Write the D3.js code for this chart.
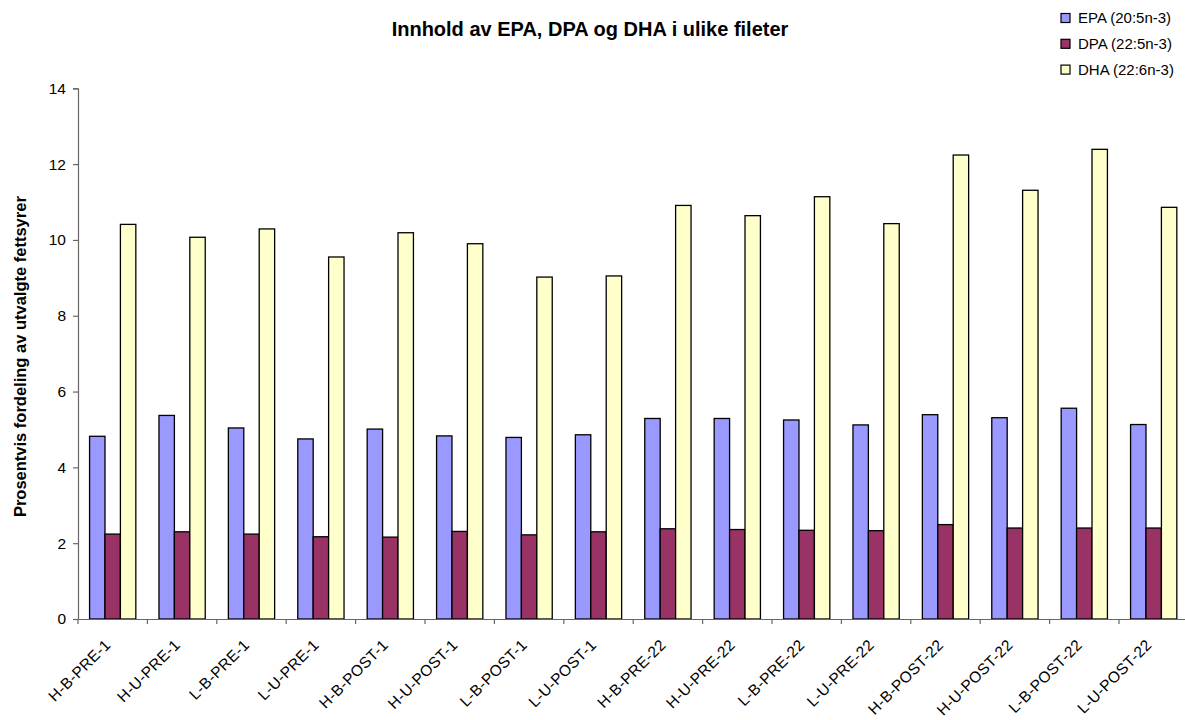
<!DOCTYPE html>
<html><head><meta charset="utf-8">
<script src="https://cdn.jsdelivr.net/npm/d3@7"></script>
<style>body{margin:0;background:#fff}svg{display:block;font-family:Arial,"Liberation Sans",sans-serif}</style>
</head><body><svg id="c" width="1185" height="720"></svg>
<script>
const categories = ["H-B-PRE-1","H-U-PRE-1","L-B-PRE-1","L-U-PRE-1","H-B-POST-1","H-U-POST-1","L-B-POST-1","L-U-POST-1","H-B-PRE-22","H-U-PRE-22","L-B-PRE-22","L-U-PRE-22","H-B-POST-22","H-U-POST-22","L-B-POST-22","L-U-POST-22"];
const seriesNames = ["EPA (20:5n-3)","DPA (22:5n-3)","DHA (22:6n-3)"];
const epa = [4.82,5.37,5.04,4.75,5.01,4.83,4.79,4.86,5.29,5.29,5.25,5.12,5.39,5.31,5.56,5.13];
const dpa = [2.24,2.30,2.24,2.17,2.16,2.31,2.22,2.30,2.38,2.36,2.34,2.33,2.49,2.40,2.40,2.40];
const dha = [10.41,10.07,10.29,9.55,10.19,9.90,9.02,9.05,10.91,10.64,11.14,10.43,12.24,11.31,12.39,10.86];
const yTicks = [0,2,4,6,8,10,12,14];
const colors = ["#9999FF","#993366","#FFFFCC"];
const title = "Innhold av EPA, DPA og DHA i ulike fileter";
const yLabel = "Prosentvis fordeling av utvalgte fettsyrer";

(function(){
const series = [epa, dpa, dha];
const svg = d3.select("#c");
const mLeft = 78, mTop = 88.3, mBottom = 619, mRight = 78 + 16*69.4;

const x = d3.scaleBand().domain(categories).range([mLeft, mRight]).paddingInner(0).paddingOuter(0);
const bw = x.bandwidth();
const barW = bw/4.5;
const x1 = d3.scaleBand().domain(d3.range(3)).range([0.75*barW, 0.75*barW + 3*barW]).padding(0);
const y = d3.scaleLinear().domain([0,14]).range([mBottom, mTop]);

// bars
series.forEach((s, si) => {
  svg.append("g").selectAll("rect").data(s).join("rect")
    .attr("x", (d,i) => x(categories[i]) + x1(si))
    .attr("y", d => y(d))
    .attr("width", x1.bandwidth())
    .attr("height", d => y(0) - y(d))
    .attr("fill", colors[si])
    .attr("stroke", "#000")
    .attr("stroke-width", 1.3);
});

// y axis
const yAxis = svg.append("g").attr("transform", `translate(${mLeft},0)`)
  .call(d3.axisLeft(y).tickValues(yTicks).tickSize(5).tickPadding(7).tickFormat(d3.format("d")));
yAxis.select(".domain").attr("stroke", "#666").attr("stroke-width", 1.2);
yAxis.selectAll(".tick line").attr("stroke", "#666").attr("stroke-width", 1.2);
yAxis.selectAll("text").attr("font-size", 15.5).attr("fill", "#000").attr("font-family", "Arial, 'Liberation Sans', sans-serif");

// x axis
const xAxis = svg.append("g").attr("transform", `translate(0,${mBottom})`)
  .call(d3.axisBottom(x).tickSize(0).tickFormat(""));
xAxis.select(".domain").attr("stroke", "#666").attr("stroke-width", 1.2);
xAxis.selectAll(".tick").remove();
const tickPos = d3.range(17).map(i => mLeft + i*bw);
svg.append("g").selectAll("line").data(tickPos).join("line")
  .attr("x1", d => d).attr("x2", d => d).attr("y1", mBottom).attr("y2", mBottom + 5)
  .attr("stroke", "#666").attr("stroke-width", 1.2);
svg.append("g").selectAll("text").data(categories).join("text")
  .attr("transform", d => `translate(${x(d) + bw/2 - 5},${mBottom + 23}) rotate(-45)`)
  .attr("text-anchor", "end")
  .attr("dy", "0.35em")
  .attr("font-size", 15.5)
  .attr("letter-spacing", 0.3)
  .text(d => d);

// title
svg.append("text").attr("x", 590).attr("y", 36).attr("text-anchor", "middle")
  .attr("font-size", 20).attr("font-weight", "bold").text(title);

// y label
svg.append("text").attr("transform", `translate(20,${(mTop+mBottom)/2 + 3}) rotate(-90)`)
  .attr("text-anchor", "middle").attr("dy", "0.35em").attr("font-size", 16.5).attr("font-weight", "bold").text(yLabel);

// legend
const lg = svg.append("g").attr("transform", "translate(1061,18)");
seriesNames.forEach((n, i) => {
  const g = lg.append("g").attr("transform", `translate(0,${i*25.8})`);
  g.append("rect").attr("x", 0).attr("y", -4.5).attr("width", 9).attr("height", 9)
    .attr("fill", colors[i]).attr("stroke", "#000").attr("stroke-width", 1.2);
  g.append("text").attr("x", 17).attr("y", 0).attr("dy", "0.35em").attr("font-size", 15).text(n);
});
})();
</script></body></html>
